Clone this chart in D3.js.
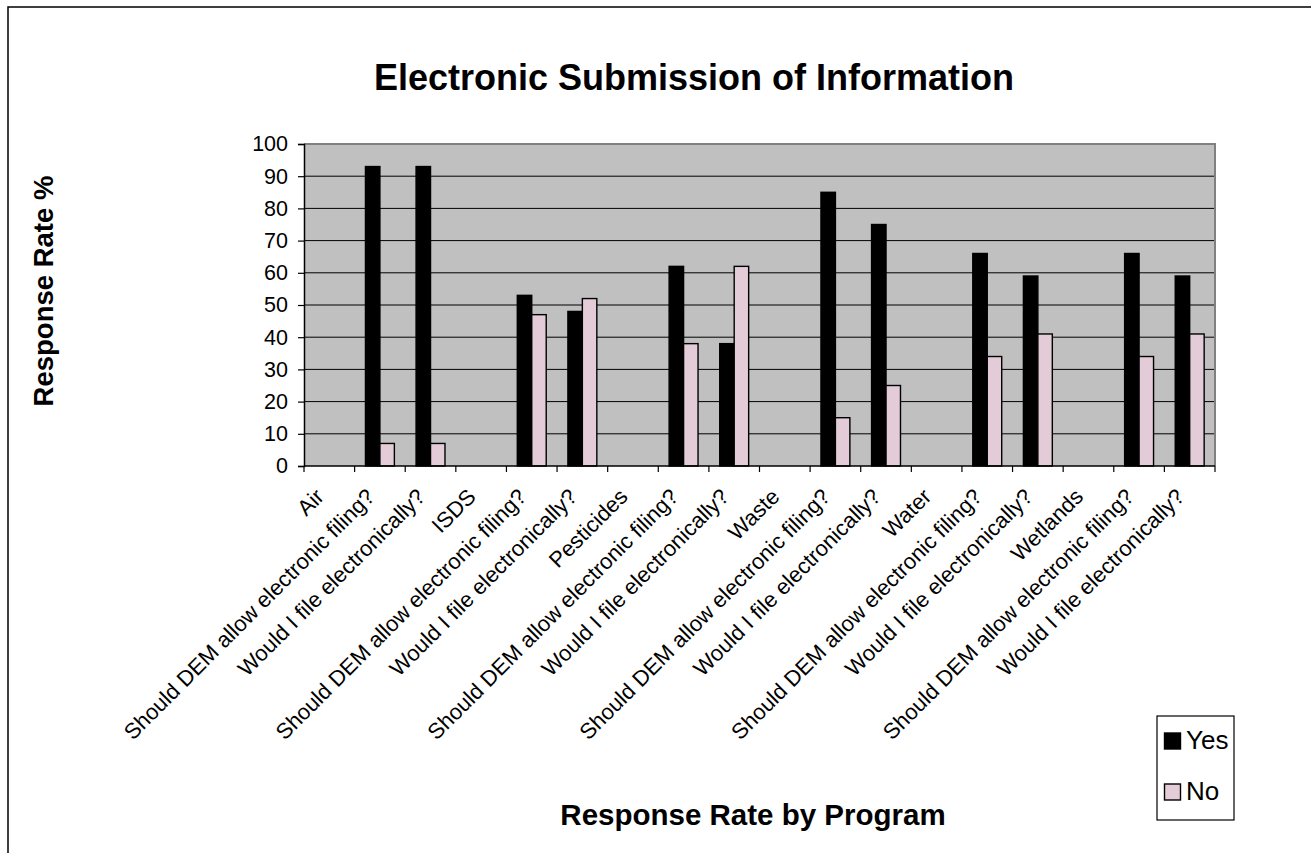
<!DOCTYPE html>
<html>
<head>
<meta charset="utf-8">
<script src="https://cdn.jsdelivr.net/npm/d3@7/dist/d3.min.js"></script>
<style>
  html, body { margin: 0; padding: 0; background: #fff; }
  svg { display: block; font-family: Arial, "Liberation Sans", sans-serif; }
</style>
</head>
<body>
<svg id="chart" width="1311" height="853"></svg>
<script>
const categories = [
  "Air",
  "Should DEM allow electronic filing?",
  "Would I file electronically?",
  "ISDS",
  "Should DEM allow electronic filing?",
  "Would I file electronically?",
  "Pesticides",
  "Should DEM allow electronic filing?",
  "Would I file electronically?",
  "Waste",
  "Should DEM allow electronic filing?",
  "Would I file electronically?",
  "Water",
  "Should DEM allow electronic filing?",
  "Would I file electronically?",
  "Wetlands",
  "Should DEM allow electronic filing?",
  "Would I file electronically?"
];
const yesValues = [null, 93, 93, null, 53, 48, null, 62, 38, null, 85, 75, null, 66, 59, null, 66, 59];
const noValues  = [null, 7, 7, null, 47, 52, null, 38, 62, null, 15, 25, null, 34, 41, null, 34, 41];
const seriesNames = ["Yes", "No"];
const seriesColors = ["#000000", "#E3CCD8"];
const yTicks = [0, 10, 20, 30, 40, 50, 60, 70, 80, 90, 100];

const titleText = "Electronic Submission of Information";
const xTitle = "Response Rate by Program";
const yTitle = "Response Rate %";

const svg = d3.select("#chart");

// outer chart frame
svg.append("rect")
  .attr("x", 8).attr("y", 7)
  .attr("width", 1400).attr("height", 1000)
  .attr("fill", "#fff").attr("stroke", "#000").attr("stroke-width", 1.5);

const plot = { left: 304, right: 1215, top: 144, bottom: 466 };

const x = d3.scaleBand()
  .domain(d3.range(categories.length))
  .range([plot.left, plot.right])
  .paddingInner(0).paddingOuter(0);

const y = d3.scaleLinear().domain([0, 100]).range([plot.bottom, plot.top]);

const barW = x.bandwidth() / 3.5;

// plot background
svg.append("rect")
  .attr("x", plot.left).attr("y", plot.top)
  .attr("width", plot.right - plot.left).attr("height", plot.bottom - plot.top)
  .attr("fill", "#C0C0C0");

// grid lines
svg.append("g").selectAll("line")
  .data(yTicks.filter(t => t > 0 && t < 100))
  .join("line")
  .attr("x1", plot.left).attr("x2", plot.right)
  .attr("y1", d => y(d)).attr("y2", d => y(d))
  .attr("stroke", "#000").attr("stroke-width", 1);

// plot border top/right (gray)
svg.append("path")
  .attr("d", `M${plot.left},${plot.top}H${plot.right}V${plot.bottom}`)
  .attr("fill", "none").attr("stroke", "#808080").attr("stroke-width", 2);

// bars
const seriesData = [yesValues, noValues];
seriesData.forEach((vals, si) => {
  svg.append("g").selectAll("rect")
    .data(vals.map((v, i) => ({ v, i })).filter(d => d.v !== null))
    .join("rect")
    .attr("x", d => x(d.i) + x.bandwidth() / 2 - barW + si * barW)
    .attr("y", d => y(d.v))
    .attr("width", barW)
    .attr("height", d => y(0) - y(d.v))
    .attr("fill", seriesColors[si])
    .attr("stroke", "#000").attr("stroke-width", 1.4);
});

// y axis
const yAxis = d3.axisLeft(y).tickValues(yTicks).tickSize(6).tickPadding(10);
const gy = svg.append("g").attr("transform", `translate(${plot.left},0)`).call(yAxis);
gy.select(".domain").attr("stroke", "#000").attr("stroke-width", 1.5);
gy.selectAll(".tick line").attr("stroke", "#000").attr("stroke-width", 1.2);
gy.selectAll(".tick text")
  .attr("font-size", 21.5).attr("fill", "#000")
  .attr("font-family", "Arial, 'Liberation Sans', sans-serif");

// x axis: ticks at category boundaries
const boundaries = d3.range(categories.length + 1).map(i => plot.left + i * x.step());
const gx = svg.append("g");
gx.append("line")
  .attr("x1", plot.left).attr("x2", plot.right)
  .attr("y1", plot.bottom).attr("y2", plot.bottom)
  .attr("stroke", "#000").attr("stroke-width", 1.5);
gx.selectAll("line.tk").data(boundaries).join("line")
  .attr("class", "tk")
  .attr("x1", d => d).attr("x2", d => d)
  .attr("y1", plot.bottom).attr("y2", plot.bottom + 6)
  .attr("stroke", "#000").attr("stroke-width", 1.2);

// category labels
svg.append("g").selectAll("text")
  .data(categories)
  .join("text")
  .attr("transform", (d, i) => `translate(${x(i) + x.bandwidth() / 2 - 4},${plot.bottom + 32}) rotate(-45)`)
  .attr("text-anchor", "end")
  .attr("font-size", 22)
  .attr("fill", "#000")
  .text(d => d);

// title
svg.append("text")
  .attr("x", 694).attr("y", 90)
  .attr("text-anchor", "middle")
  .attr("font-size", 36).attr("font-weight", "bold")
  .text(titleText);

// x title
svg.append("text")
  .attr("x", 753).attr("y", 825)
  .attr("text-anchor", "middle")
  .attr("font-size", 29.5).attr("font-weight", "bold")
  .text(xTitle);

// y title
svg.append("text")
  .attr("transform", "translate(53,291) rotate(-90)")
  .attr("text-anchor", "middle")
  .attr("font-size", 27.5).attr("font-weight", "bold")
  .text(yTitle);

// legend
const lg = svg.append("g");
lg.append("rect")
  .attr("x", 1157).attr("y", 716).attr("width", 77).attr("height", 104)
  .attr("fill", "#fff").attr("stroke", "#000").attr("stroke-width", 1.2);
seriesNames.forEach((name, i) => {
  const yy = 733 + i * 51;
  lg.append("rect")
    .attr("x", 1164.5).attr("y", yy).attr("width", 16).attr("height", 16)
    .attr("fill", seriesColors[i]).attr("stroke", "#000").attr("stroke-width", 1.4);
  lg.append("text")
    .attr("x", 1186).attr("y", yy + 16)
    .attr("font-size", 26)
    .text(name);
});
</script>
</body>
</html>
